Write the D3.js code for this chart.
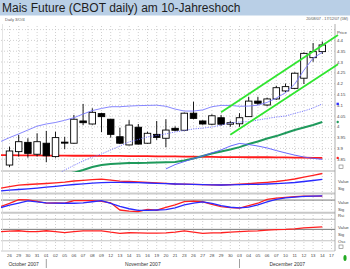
<!DOCTYPE html>
<meta charset="utf-8">
<style>
  body { margin: 0; background: #fff; }
  svg { display: block; font-family: "Liberation Sans", Arial, sans-serif; }
</style>
<body>
<script src="https://cdnjs.cloudflare.com/ajax/libs/d3/7.8.5/d3.min.js"></script>
<script>
// trading days; the first one (25 Oct) only feeds the indicator lines, 17 Dec has no candle yet
const dates = [
  "2007-10-25", "2007-10-26", "2007-10-29", "2007-10-30", "2007-10-31",
  "2007-11-01", "2007-11-02", "2007-11-05", "2007-11-06", "2007-11-07", "2007-11-08", "2007-11-09",
  "2007-11-12", "2007-11-13", "2007-11-14", "2007-11-15", "2007-11-16",
  "2007-11-19", "2007-11-20", "2007-11-21", "2007-11-23",
  "2007-11-26", "2007-11-27", "2007-11-28", "2007-11-29", "2007-11-30",
  "2007-12-03", "2007-12-04", "2007-12-05", "2007-12-06", "2007-12-07",
  "2007-12-10", "2007-12-11", "2007-12-12", "2007-12-13", "2007-12-14", "2007-12-17"];

const months = [
  {name: "October 2007", first: "2007-10-26"},
  {name: "November 2007", first: "2007-11-01"},
  {name: "December 2007", first: "2007-12-03"}];

// candles 26 Oct .. 14 Dec
const open  = [3.823, 3.885, 3.928, 3.873, 3.924, 3.862, 3.929, 3.924, 4.027, 4.013, 4.061, 4.035, 3.954, 3.916, 3.998, 3.924, 3.965, 3.947, 3.993, 3.984, 4.063, 4.027, 4.012, 4.042, 4.012, 4.014, 4.047, 4.119, 4.101, 4.129, 4.166, 4.178, 4.225, 4.320, 4.348];
const high  = [3.908, 3.962, 3.947, 3.970, 3.981, 3.977, 3.954, 4.055, 4.106, 4.086, 4.065, 4.037, 3.996, 4.031, 4.013, 3.977, 4.027, 4.035, 4.002, 4.066, 4.116, 4.030, 4.058, 4.055, 4.028, 4.063, 4.139, 4.139, 4.135, 4.190, 4.200, 4.252, 4.345, 4.388, 4.394];
const low   = [3.814, 3.862, 3.857, 3.862, 3.836, 3.857, 3.897, 3.922, 4.008, 4.010, 3.975, 3.950, 3.920, 3.914, 3.918, 3.922, 3.939, 3.905, 3.980, 3.980, 4.035, 4.010, 4.008, 4.005, 4.000, 4.000, 4.047, 4.101, 4.095, 4.125, 4.160, 4.175, 4.198, 4.301, 4.337];
const close = [3.888, 3.931, 3.877, 3.931, 3.866, 3.950, 3.927, 4.035, 4.019, 4.067, 4.047, 3.965, 3.924, 4.008, 3.920, 3.970, 3.951, 3.985, 3.984, 4.063, 4.039, 4.013, 4.051, 4.012, 4.019, 4.042, 4.119, 4.109, 4.129, 4.181, 4.186, 4.248, 4.340, 4.348, 4.379];

// indicators 25 Oct .. 14 Dec (null = below the visible price range)
const upperBand = [3.931, 3.950, 3.967, 3.985, 4.003, 4.013, 4.020, 4.030, 4.042, 4.059, 4.075, 4.085, 4.093, 4.093, 4.096, 4.098, 4.099, 4.100, 4.095, 4.082, 4.073, 4.073, 4.078, 4.093, 4.099, 4.099, 4.095, 4.096, 4.100, 4.113, 4.133, 4.158, 4.198, 4.262, 4.318, 4.345];
const midBand = [null, null, null, null, null, null, 3.775, 3.800, 3.821, 3.842, 3.860, 3.874, 3.893, 3.911, 3.930, 3.941, 3.953, 3.960, 3.967, 3.976, 3.983, 3.990, 3.994, 3.999, 4.008, 4.018, 4.022, 4.024, 4.031, 4.039, 4.045, 4.050, 4.062, 4.073, 4.087, 4.106];
const lowerBand = [null, null, null, null, null, null, null, null, null, null, null, null, null, null, null, null, null, null, 3.805, 3.825, 3.839, 3.853, 3.865, 3.879, 3.893, 3.911, 3.923, 3.918, 3.911, 3.902, 3.890, 3.879, 3.869, 3.860, 3.854, 3.849];
const maGreen = [null, null, null, null, null, null, null, 3.781, 3.788, 3.800, 3.814, 3.823, 3.828, 3.830, 3.832, 3.832, 3.833, 3.835, 3.836, 3.837, 3.844, 3.853, 3.865, 3.876, 3.886, 3.895, 3.906, 3.920, 3.932, 3.946, 3.957, 3.971, 3.985, 3.997, 4.008, 4.022];
const maRed = [3.869, 3.869, 3.868, 3.868, 3.868, 3.867, 3.867, 3.867, 3.866, 3.866, 3.866, 3.865, 3.865, 3.865, 3.864, 3.864, 3.864, 3.863, 3.863, 3.863, 3.862, 3.862, 3.861, 3.861, 3.860, 3.860, 3.860, 3.859, 3.859, 3.859, 3.858, 3.858, 3.857, 3.857, 3.856, 3.856];

const macd   = [2.35, 3.15, 3.9, 4.25, 4.5, 4.75, 5.1, 5.45, 6.0, 6.35, 6.7, 6.9, 6.4, 5.95, 5.75, 5.5, 5.3, 5.05, 4.8, 4.5, 4.4, 4.3, 4.2, 4.1, 4.0, 4.15, 4.4, 4.7, 5.0, 5.35, 5.75, 6.35, 7.0, 7.9, 8.85, 9.75];
const signal = [1.0, 1.4, 1.75, 2.1, 2.45, 2.9, 3.35, 3.85, 4.25, 4.6, 4.95, 5.2, 5.35, 5.3, 5.25, 5.15, 5.0, 4.85, 4.65, 4.5, 4.4, 4.3, 4.2, 4.1, 4.0, 4.1, 4.2, 4.3, 4.35, 4.5, 4.7, 4.95, 5.25, 5.75, 6.25, 6.85];
const stochK = [49, 64, 82, 81, 74, 66, 67, 65, 77, 77, 77, 74, 67, 33, 28, 26, 36, 32, 45, 57, 73, 75, 72, 60, 49, 44, 42, 54, 65, 83, 89, 93, 96, 99, 99, 99];
const stochD = [44, 56, 66, 76, 71, 67, 66, 65, 65, 67, 72, 77, 64, 50, 39, 31, 31, 33, 35, 43, 57, 66, 71, 64, 54, 46, 43, 47, 57, 71, 83, 90, 94, 97, 99, 100];
const rsi    = [62, 63.5, 65, 62, 62, 65, 62, 58.5, 62, 65, 65, 65, 60, 56, 58, 57.5, 56.5, 57, 57.5, 60, 64.5, 60.5, 56, 57.5, 58, 60, 62, 64, 65, 67, 69, 70, 72, 75, 77, 79];

// trend channel anchors [date, price]
const channelUpper = [["2007-11-29", 4.067], ["2007-12-17", 4.405]];
const channelLower = [["2007-11-30", 3.963], ["2007-12-17", 4.270]];

const priceTicks = [3.85, 3.9, 3.95, 4, 4.05, 4.1, 4.15, 4.2, 4.25, 4.3, 4.35, 4.4];

// ---- layout
const W = 350, H = 269;
const left = 1, right = 335;
const mainTop = 25, mainBottom = 172;

const svg = d3.select("body").append("svg")
    .attr("width", W).attr("height", H);

const x = d3.scalePoint().domain(dates).range([0.3, 331.5]);
const yP = d3.scaleLinear().domain([3.85, 4.3]).range([159.2, 62]);
const yMacd = d3.scaleLinear().domain([0, 10]).range([193, 173]);
const yStoch = d3.scaleLinear().domain([0, 100]).range([217, 195.83]);
const yRsi = d3.scaleLinear().domain([0, 100]).range([249.3, 220.8]);

svg.append("defs").append("clipPath").attr("id", "clipMain")
  .append("rect").attr("x", left).attr("y", mainTop)
    .attr("width", right - left).attr("height", mainBottom - mainTop);
svg.append("defs").append("clipPath").attr("id", "clipAll")
  .append("rect").attr("x", left).attr("y", mainTop)
    .attr("width", right - left).attr("height", 251 - mainTop);

// title bar
svg.append("rect").attr("x", 0).attr("y", 0).attr("width", W).attr("height", 15.5)
    .attr("fill", "#b9cfe6");
svg.append("text").attr("x", 2).attr("y", 12)
    .attr("font-size", 12).attr("fill", "#1e1e1e")
    .text("Mais Future (CBOT daily) am 10-Jahreshoch");
svg.append("text").attr("x", 5).attr("y", 21)
    .attr("font-size", 4).attr("fill", "#555").text("Daily 3/O/4");
svg.append("text").attr("x", 348).attr("y", 19.5).attr("text-anchor", "end")
    .attr("font-size", 3.8).attr("fill", "#555").text("20/08/07 - 17/12/07 (5M)");

// grid
const grid = svg.append("g");
grid.selectAll("line.v").data(dates.slice(1)).enter().append("line")
    .attr("x1", d => x(d)).attr("x2", d => x(d))
    .attr("y1", 26).attr("y2", 251)
    .attr("stroke", "#c4c4c4").attr("stroke-width", 0.8).attr("stroke-dasharray", "1,2");
grid.selectAll("line.h").data(priceTicks.concat([4.45])).enter().append("line")
    .attr("x1", left).attr("x2", right)
    .attr("y1", d => yP(d)).attr("y2", d => yP(d))
    .attr("stroke", "#c4c4c4").attr("stroke-width", 0.8).attr("stroke-dasharray", "1,2");

// frame and panel separators
const sep = [
  {y: 171, c: "#d4d4d4", w: 2},
  {y: 193.6, c: "#cccccc", w: 2},
  {y: yStoch(80), c: "#777", w: 1},
  {y: yStoch(20), c: "#c8c8c8", w: 2},
  {y: 219.3, c: "#aaa", w: 0.8},
  {y: yRsi(70), c: "#777", w: 1},
  {y: yRsi(30), c: "#c4c4c4", w: 1},
  {y: 251, c: "#bbb", w: 0.8}];
svg.selectAll("line.sep").data(sep).enter().append("line")
    .attr("x1", left).attr("x2", right)
    .attr("y1", d => d.y).attr("y2", d => d.y)
    .attr("stroke", d => d.c).attr("stroke-width", d => d.w);
svg.append("line").attr("x1", right).attr("x2", right).attr("y1", 24).attr("y2", 251)
    .attr("stroke", "#999").attr("stroke-width", 0.8);
svg.append("line").attr("x1", 2.5).attr("x2", 2.5).attr("y1", 24).attr("y2", 251)
    .attr("stroke", "#ddd").attr("stroke-width", 0.8);

const lineOf = (arr, ys) => d3.line()
    .defined(v => v != null)
    .x((v, k) => x(dates[k]))
    .y(v => ys(v))(arr);

// main panel lines
const mainG = svg.append("g").attr("clip-path", "url(#clipMain)");
mainG.append("path").attr("d", lineOf(maRed, yP))
    .attr("fill", "none").attr("stroke", "#ff1a1a").attr("stroke-width", 1.8);
mainG.append("path").attr("d", lineOf(maGreen, yP))
    .attr("fill", "none").attr("stroke", "#1f9a5c").attr("stroke-width", 2);

// candles
const candles = open.map((o, i) => ({date: dates[i + 1], o, h: high[i], l: low[i], c: close[i]}));
const bw = 6.5;
const cg = mainG.append("g");
cg.selectAll("line").data(candles).enter().append("line")
    .attr("x1", d => x(d.date)).attr("x2", d => x(d.date))
    .attr("y1", d => yP(d.h)).attr("y2", d => yP(d.l))
    .attr("stroke", "#000").attr("stroke-width", 0.9);
cg.selectAll("rect").data(candles).enter().append("rect")
    .attr("x", d => x(d.date) - bw / 2)
    .attr("y", d => yP(Math.max(d.o, d.c)))
    .attr("width", bw)
    .attr("height", d => Math.max(1, Math.abs(yP(d.o) - yP(d.c))))
    .attr("fill", d => d.c >= d.o ? "#fff" : "#000")
    .attr("stroke", "#000").attr("stroke-width", 0.9);

// bollinger
mainG.append("path").attr("d", lineOf(lowerBand, yP))
    .attr("fill", "none").attr("stroke", "#5a5aff").attr("stroke-width", 0.9);
mainG.append("path").attr("d", lineOf(midBand, yP))
    .attr("fill", "none").attr("stroke", "#6f6fff").attr("stroke-width", 0.9)
    .attr("stroke-dasharray", "1.2,1.2");
mainG.append("path").attr("d", lineOf(upperBand, yP))
    .attr("fill", "none").attr("stroke", "#7a7aff").attr("stroke-width", 0.9);

// trend channel, extended a little past the last day
const xEnd = x(dates[dates.length - 1]) + 6.5;
function channelPath(a) {
  const x0 = x(a[0][0]), y0 = yP(a[0][1]), x1 = x(a[1][0]), y1 = yP(a[1][1]);
  const s = (y1 - y0) / (x1 - x0);
  return "M" + x0 + "," + y0 + "L" + xEnd + "," + (y0 + s * (xEnd - x0));
}
[channelUpper, channelLower].forEach(a => {
  svg.append("path").attr("d", channelPath(a))
      .attr("fill", "none").attr("stroke", "#2fe52f").attr("stroke-width", 1.8);
});

// indicator panels
const indG = svg.append("g").attr("clip-path", "url(#clipAll)");
const ind = [
  {a: macd, s: yMacd, c: "#ff2020"}, {a: signal, s: yMacd, c: "#2a2aff"},
  {a: stochK, s: yStoch, c: "#ff2020"}, {a: stochD, s: yStoch, c: "#2a2aff"},
  {a: rsi, s: yRsi, c: "#ff2020"}];
ind.forEach(d => {
  indG.append("path").attr("d", lineOf(d.a, d.s))
      .attr("fill", "none").attr("stroke", d.c).attr("stroke-width", 1.3);
});

// right axis
const ax = svg.append("g").attr("font-size", 4.3).attr("fill", "#444");
ax.append("text").attr("x", 337).attr("y", 34).text("Price");
ax.selectAll("text.t").data(priceTicks).enter().append("text")
    .attr("x", 337).attr("y", d => yP(d) + 1.5)
    .text(d => String(+d.toFixed(2)));
const sideLabels = [
  {t: "Value", y: 183}, {t: "Sig", y: 190},
  {t: "Value", y: 203.5}, {t: "Sig", y: 210.5}, {t: "Rsi", y: 217},
  {t: "Value", y: 229}, {t: "Sig", y: 236}, {t: "Osc", y: 243}];
ax.selectAll("text.s").data(sideLabels).enter().append("text")
    .attr("x", 338).attr("y", d => d.y).text(d => d.t);
[167, 247].forEach(yy => {
  svg.append("rect").attr("x", 339).attr("y", yy - 2).attr("width", 4).attr("height", 3.5)
      .attr("fill", "#fff").attr("stroke", "#777").attr("stroke-width", 0.6);
});

// last-value markers
svg.append("rect").attr("x", 336.5).attr("y", yP(midBand[35]) - 1.2)
    .attr("width", 2.4).attr("height", 2.4).attr("fill", "#3030ff");
svg.append("circle").attr("cx", 337.7).attr("cy", yP(maGreen[35])).attr("r", 1.2)
    .attr("fill", "#1f9a5c");
svg.append("circle").attr("cx", 337.7).attr("cy", yP(maRed[35])).attr("r", 1.2)
    .attr("fill", "#ff2020");
svg.append("ellipse").attr("cx", 345).attr("cy", 258).attr("rx", 1.6).attr("ry", 3)
    .attr("fill", "#22aa22");

// bottom axis
const fmtDay = d => d.slice(8);
svg.selectAll("text.day").data(dates.slice(1)).enter().append("text")
    .attr("x", d => x(d)).attr("y", 256.5)
    .attr("text-anchor", "middle").attr("font-size", 4.3).attr("fill", "#444")
    .text(fmtDay);
const monthEdges = months.map(m => x(m.first));
months.forEach((m, k) => {
  const a = k === 0 ? left : monthEdges[k];
  const b = k === months.length - 1 ? right : monthEdges[k + 1];
  if (k > 0) {
    svg.append("line").attr("x1", monthEdges[k]).attr("x2", monthEdges[k])
        .attr("y1", 259).attr("y2", 268).attr("stroke", "#888").attr("stroke-width", 0.8);
  }
  svg.append("text").attr("x", (a + b) / 2).attr("y", 266)
      .attr("text-anchor", "middle").attr("font-size", 5).attr("fill", "#333")
      .text(m.name);
});
</script>
</body>
